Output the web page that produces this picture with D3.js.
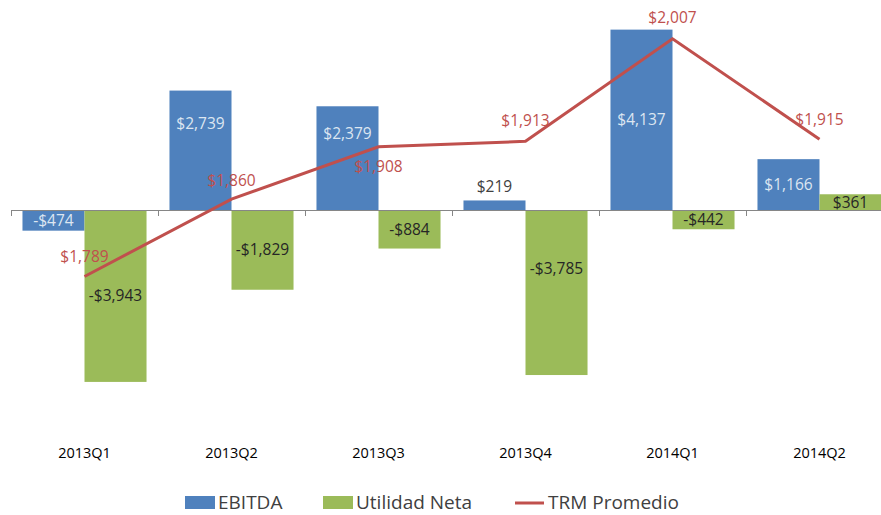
<!DOCTYPE html>
<html>
<head>
<meta charset="utf-8">
<script src="https://cdn.jsdelivr.net/npm/d3@7/dist/d3.min.js"></script>
<style>
  body { margin: 0; background: #fff; }
  svg { display: block; font-family: "Open Sans", sans-serif; }
</style>
</head>
<body>
<svg id="chart" width="881" height="515"></svg>
<script>
// data
var quarters = ["2013Q1", "2013Q2", "2013Q3", "2013Q4", "2014Q1", "2014Q2"];
var ebitda = [-474, 2739, 2379, 219, 4137, 1166];
var utilidad = [-3943, -1829, -884, -3785, -442, 361];
var trm = [1789, 1860, 1908, 1913, 2007, 1915];
var seriesNames = ["EBITDA", "Utilidad Neta", "TRM Promedio"];

// label nudges (px) so labels don't sit on the line
var ebitdaNudge = [0, -27, -25, 0, 0, 0];
var utilNudge = [0, 0, 0, -24, 0, 0];
var trmNudge = [-20, -19, 20, -21, -21, -20];

var colors = ["#4F81BD", "#9BBB59", "#C0504D"];

var svg = d3.select("#chart");

var x0 = d3.scaleBand()
    .domain(quarters)
    .range([11, 893]);

var x1 = d3.scaleBand()
    .domain([0, 1])
    .range([0, x0.bandwidth()])
    .paddingOuter(0.185);

var y = d3.scaleLinear()
    .domain([-5000, 5000])
    .range([428, -8]);

var y2 = d3.scaleLinear()
    .domain([1650, 2050])
    .range([428, -8]);

var bars = [];
quarters.forEach(function (q, i) {
    bars.push({q: q, s: 0, v: ebitda[i], i: i});
    bars.push({q: q, s: 1, v: utilidad[i], i: i});
});

svg.append("g")
    .selectAll("rect")
    .data(bars)
    .enter().append("rect")
    .attr("x", function (d) { return x0(d.q) + x1(d.s); })
    .attr("width", x1.bandwidth())
    .attr("y", function (d) { return y(Math.max(0, d.v)); })
    .attr("height", function (d) { return Math.abs(y(d.v) - y(0)); })
    .attr("fill", function (d) { return colors[d.s]; });

//---AXIS
var axis = svg.append("g").attr("stroke", "#868686").attr("stroke-width", 1);
axis.append("line")
    .attr("x1", x0.range()[0]).attr("x2", 881)
    .attr("y1", y(0) + 0.5).attr("y2", y(0) + 0.5);
axis.selectAll("line.tick")
    .data(quarters)
    .enter().append("line")
    .attr("class", "tick")
    .attr("x1", function (d) { return Math.round(x0(d)) + 0.5; })
    .attr("x2", function (d) { return Math.round(x0(d)) + 0.5; })
    .attr("y1", y(0)).attr("y2", y(0) + 6);

svg.append("g")
    .selectAll("text")
    .data(quarters)
    .enter().append("text")
    .attr("x", function (d) { return x0(d) + x0.bandwidth() / 2; })
    .attr("y", 458)
    .attr("text-anchor", "middle")
    .attr("font-size", "14.5px")
    .attr("fill", "#000")
    .text(function (d) { return d; });

//---LINE
var line = d3.line()
    .x(function (d, i) { return x0(quarters[i]) + x0.bandwidth() / 2; })
    .y(function (d) { return y2(d); });

svg.append("path")
    .datum(trm)
    .attr("d", line)
    .attr("fill", "none")
    .attr("stroke", colors[2])
    .attr("stroke-width", 3);

//---LABELS
function money(v) {
    return (v < 0 ? "-$" : "$") + d3.format(",")(Math.abs(v));
}

svg.append("g")
    .selectAll("text")
    .data(bars)
    .enter().append("text")
    .attr("x", function (d) { return x0(d.q) + x1(d.s) + x1.bandwidth() / 2; })
    .attr("y", function (d) {
        var c = (y(d.v) + y(0)) / 2;
        if (d.s == 0 && d.v > 0 && y(0) - y(d.v) < 20) c = y(d.v) - 14;
        c += d.s == 0 ? ebitdaNudge[d.i] : utilNudge[d.i];
        return c + 5.5;
    })
    .attr("text-anchor", "middle")
    .attr("font-size", "15.5px")
    .attr("fill", function (d) {
        if (d.s == 1) return "#262626";
        if (y(0) - y(d.v) < 20 && d.v > 0) return "#404040";
        return "#DDE6F1";
    })
    .text(function (d) { return money(d.v); });

svg.append("g")
    .selectAll("text")
    .data(trm)
    .enter().append("text")
    .attr("x", function (d, i) { return x0(quarters[i]) + x0.bandwidth() / 2; })
    .attr("y", function (d, i) { return y2(d) + trmNudge[i] + 5.5; })
    .attr("text-anchor", "middle")
    .attr("font-size", "15.5px")
    .attr("fill", colors[2])
    .text(function (d) { return money(d); });

//---LEGEND
var legend = svg.append("g").attr("font-size", "19px").attr("fill", "#404040");
var legendX = [185, 323, 515];
seriesNames.forEach(function (name, i) {
    if (i < 2) {
        legend.append("rect")
            .attr("x", legendX[i]).attr("y", 496)
            .attr("width", 30).attr("height", 13)
            .attr("fill", colors[i]);
    } else {
        legend.append("line")
            .attr("x1", legendX[i]).attr("x2", legendX[i] + 29)
            .attr("y1", 503).attr("y2", 503)
            .attr("stroke", colors[i]).attr("stroke-width", 3);
    }
    legend.append("text")
        .attr("x", legendX[i] + 33)
        .attr("y", 509)
        .text(name);
});
</script>
</body>
</html>
